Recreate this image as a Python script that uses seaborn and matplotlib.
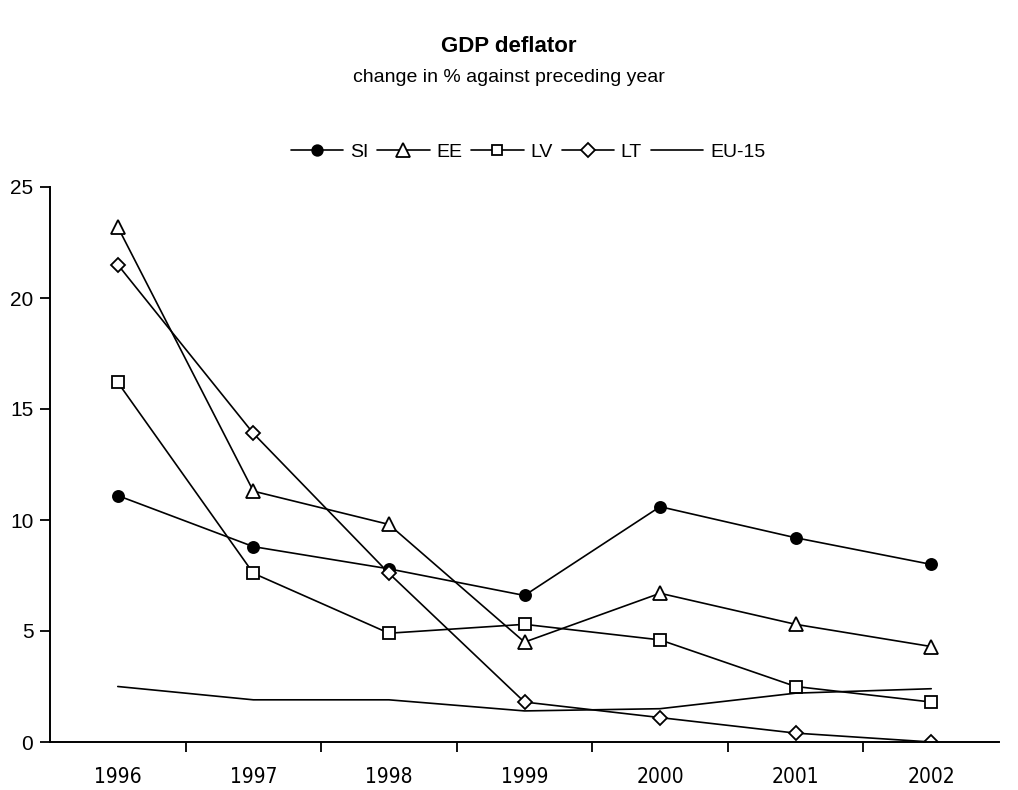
import matplotlib
matplotlib.use("Agg")
import matplotlib.pyplot as plt
from matplotlib import font_manager
import seaborn as sns
import numpy as np

# Data
years = ["1996", "1997", "1998", "1999", "2000", "2001", "2002"]
si = [11.1, 8.8, 7.8, 6.6, 10.6, 9.2, 8.0]
ee = [23.2, 11.3, 9.8, 4.5, 6.7, 5.3, 4.3]
lv = [16.2, 7.6, 4.9, 5.3, 4.6, 2.5, 1.8]
lt = [21.5, 13.9, 7.6, 1.8, 1.1, 0.4, 0.0]
eu15 = [2.5, 1.9, 1.9, 1.4, 1.5, 2.2, 2.4]

series = [
    ("SI", si, "o", "black"),
    ("EE", ee, "^", "white"),
    ("LV", lv, "s", "white"),
    ("LT", lt, "D", "white"),
    ("EU-15", eu15, None, "white"),
]
marker_sizes = {"o": 8, "^": 10, "s": 8, "D": 7.4}

sns.set_style("white")
plt.rcParams["font.family"] = ["Liberation Sans", "DejaVu Sans"]
plt.rcParams["text.color"] = "black"
plt.rcParams["xtick.color"] = "black"
plt.rcParams["ytick.color"] = "black"

# the year labels use a narrow face in the reference; pick one if installed
narrow = None
for f in font_manager.fontManager.ttflist:
    nm = f.name.lower()
    if ("narrow" in nm or "condensed" in nm or f.stretch in ("condensed", "semi-condensed")) \
            and f.style == "normal" and f.weight in (400, "normal", "regular"):
        if narrow is None or "liberation" in nm:
            narrow = f.fname
if narrow:
    year_font = font_manager.FontProperties(fname=narrow, size=15)
else:
    year_font = font_manager.FontProperties(family="Liberation Sans", size=13)

fig = plt.figure(figsize=(10.18, 7.9), dpi=100)
ax = fig.add_axes([50 / 1018, 48 / 790, 949 / 1018, 555 / 790])

x = np.arange(len(years))
for name, vals, mk, face in series:
    kw = dict(color="black", linewidth=1.2, label=name, ax=ax)
    if mk is not None:
        kw.update(marker=mk, markersize=marker_sizes[mk], markerfacecolor=face,
                  markeredgecolor="black", markeredgewidth=1.3)
    sns.lineplot(x=x, y=vals, **kw)

ax.set_xlim(-0.5, 6.5)
ax.set_ylim(0, 25)
ax.set_yticks([0, 5, 10, 15, 20, 25])
ax.set_xticks(x)
ax.set_xticklabels(years)
for lbl in ax.get_xticklabels():
    lbl.set_fontproperties(year_font)
ax.set_xticks(np.arange(0.5, 6.0, 1.0), minor=True)
ax.tick_params(axis="x", which="major", length=0, pad=18)
ax.tick_params(axis="x", which="minor", direction="out", length=7, width=1.3, bottom=True)
ax.tick_params(axis="y", direction="out", length=7, width=1.3, labelsize=15, pad=5, left=True)
for side in ["top", "right"]:
    ax.spines[side].set_visible(False)
for side in ["left", "bottom"]:
    ax.spines[side].set_linewidth(1.4)
    ax.spines[side].set_color("black")
ax.set_xlabel("")
ax.set_ylabel("")
if ax.get_legend():
    ax.get_legend().remove()

handles, labels = ax.get_legend_handles_labels()
fig.legend(handles, labels, loc="center", bbox_to_anchor=(528 / 1018, 1 - 152 / 790), ncol=5,
           frameon=False, fontsize=14, markerscale=0.95, handlelength=2.7,
           handletextpad=0.35, columnspacing=0.45)

fig.text(0.5, 1 - 47 / 790, "GDP deflator", ha="center", va="center",
         fontsize=16, fontweight="bold")
fig.text(0.5, 1 - 78 / 790, "change in % against preceding year", ha="center",
         va="center", fontsize=14)

fig.savefig("out.png", dpi=100)
